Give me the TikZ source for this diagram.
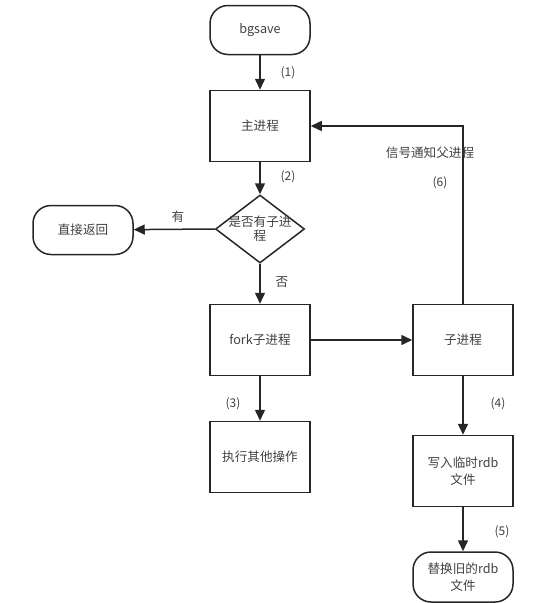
\documentclass[tikz,border=0pt]{standalone}
\usepackage{fontspec}
\setmainfont{Noto Sans CJK SC}
\usetikzlibrary{arrows.meta,shapes.geometric}
\definecolor{Ink}{RGB}{38,38,38}
\definecolor{Txt}{RGB}{64,64,64}

\begin{document}
\begin{tikzpicture}[x=1pt,y=-1pt,
    font=\fontsize{12.6}{15}\selectfont, text=Txt,
    box/.style={draw=Ink, line width=1.5pt, minimum width=100pt, minimum height=71pt, align=center, inner sep=2pt},
    term/.style={draw=Ink, line width=1.5pt, rounded corners=18pt, minimum width=100pt, minimum height=49pt, align=center, inner sep=2pt},
    flow/.style={draw=Ink, line width=1.5pt, -{Triangle[length=11pt,width=10pt]}},
    tag/.style={font=\fontsize{12}{14}\selectfont}]
  \useasboundingbox (0,0) rectangle (544,603);

  % left column
  \node[term] (bgsave) at (260,30) {bgsave};
  \node[box] (main) at (260,126) {主进程};
  \node[diamond, draw=Ink, line width=1.5pt, minimum width=89pt, minimum height=68pt, inner sep=0pt] (check) at (260,229) {};
  \node[align=center, font=\fontsize{12.6}{14}\selectfont] (checktext) at (260,229) {是否有子进\\程};
  \node[term] (ret) at (83,230) {直接返回};
  \node[box] (fork) at (260,340) {fork子进程};
  \node[box] (other) at (260,457) {执行其他操作};

  % right column
  \node[box] (child) at (463,340) {子进程};
  \node[box, font=\fontsize{12.6}{17}\selectfont] (write) at (463,471) {写入临时rdb\\文件};
  \node[term, minimum height=50pt, font=\fontsize{12.6}{17}\selectfont] (replace) at (463,577) {替换旧的rdb\\文件};

  % connectors
  \draw[flow] (bgsave) -- (main);
  \draw[flow] (main) -- (check);
  \draw[flow] (check.west) -- (ret);
  \draw[flow] (check.south) -- (fork);
  \draw[flow] (fork) -- (child);
  \draw[flow] (fork) -- (other);
  \draw[flow] (child) -- (write);
  \draw[flow] (write) -- (replace);
  \draw[flow] (child.north) |- (main.east);

  % labels
  \node[tag] (l1) at (288,73) {(1)};
  \node[tag] (l2) at (288,177) {(2)};
  \node (lyes) at (178,217) {有};
  \node (lno) at (282,282) {否};
  \node[tag] (l3) at (233,404) {(3)};
  \node[tag] (l4) at (498,404) {(4)};
  \node[tag] (l5) at (502,532) {(5)};
  \node (lsig) at (430,153) {信号通知父进程};
  \node[tag] (l6) at (440,183) {(6)};
\end{tikzpicture}
\end{document}
